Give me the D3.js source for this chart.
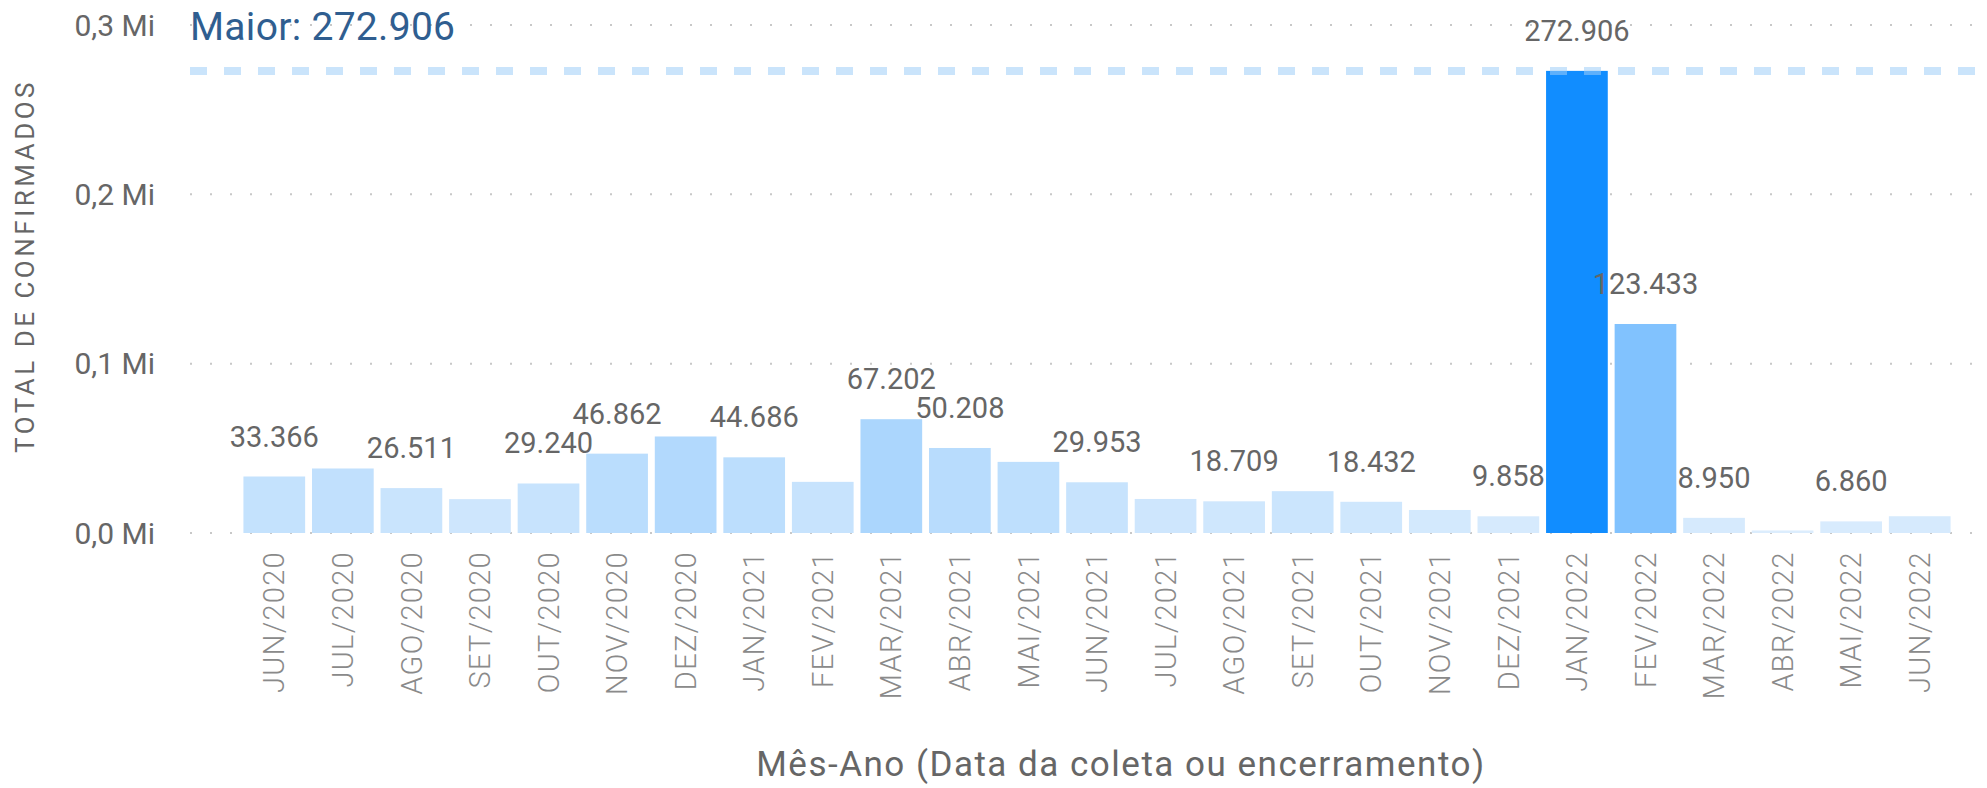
<!DOCTYPE html>
<html>
<head>
<meta charset="utf-8">
<script src="https://cdn.jsdelivr.net/npm/d3@7"></script>
<style>
  html, body { margin: 0; padding: 0; background: #fff; }
  svg { display: block; font-family: Roboto, "DejaVu Sans", sans-serif; }
</style>
</head>
<body>
<svg id="chart" width="1987" height="788"></svg>
<script>
const months = ["JUN/2020", "JUL/2020", "AGO/2020", "SET/2020", "OUT/2020", "NOV/2020", "DEZ/2020",
  "JAN/2021", "FEV/2021", "MAR/2021", "ABR/2021", "MAI/2021", "JUN/2021", "JUL/2021", "AGO/2021",
  "SET/2021", "OUT/2021", "NOV/2021", "DEZ/2021", "JAN/2022", "FEV/2022", "MAR/2022", "ABR/2022",
  "MAI/2022", "JUN/2022"];
const confirmed = [33366, 38100, 26511, 20000, 29240, 46862, 57000, 44686, 30200, 67202, 50208, 42000,
  29953, 20100, 18709, 24700, 18432, 13600, 9858, 272906, 123433, 8950, 1500, 6860, 9900];
const yTicks = [0, 100000, 200000, 300000];

const yTitle = "TOTAL DE CONFIRMADOS";
const xTitle = "Mês-Ano (Data da coleta ou encerramento)";

const ptBR = d3.formatLocale({ decimal: ",", thousands: ".", grouping: [3], currency: ["R$", ""] });
const fmtInt = ptBR.format(",d");
const fmtMi = (v) => ptBR.format(".1f")(v / 1e6) + " Mi";

const svg = d3.select("#chart");

const x = d3.scaleBand().domain(months).range([240, 1954]).paddingInner(0.1).paddingOuter(0.05);
const y = d3.scaleLinear().domain([0, 300000]).range([533, 25]);

const maxVal = d3.max(confirmed);
const color = d3.scaleLinear()
  .domain([d3.min(confirmed), maxVal])
  .range(["#dcedfd", "#118dff"]);

// gridlines (dotted)
svg.append("g")
  .selectAll("line")
  .data(yTicks)
  .join("line")
  .attr("x1", 190)
  .attr("x2", 1975)
  .attr("y1", (d) => y(d))
  .attr("y2", (d) => y(d))
  .attr("stroke", "#c8c8c8")
  .attr("stroke-width", 2)
  .attr("stroke-dasharray", "2 18");

// y tick labels
svg.append("g")
  .selectAll("text")
  .data(yTicks)
  .join("text")
  .attr("x", 155)
  .attr("y", (d) => y(d))
  .attr("dy", "0.35em")
  .attr("text-anchor", "end")
  .attr("font-size", 30)
  .attr("fill", "#666")
  .text((d) => fmtMi(d));

// y title
svg.append("text")
  .attr("transform", "translate(34,266) rotate(-90)")
  .attr("text-anchor", "middle")
  .attr("font-size", 26)
  .attr("letter-spacing", 3.5)
  .attr("fill", "#666")
  .text(yTitle);

// bars
const data = months.map((m, i) => ({ month: m, value: confirmed[i] }));
svg.append("g")
  .selectAll("rect")
  .data(data)
  .join("rect")
  .attr("x", (d) => x(d.month))
  .attr("y", (d) => y(d.value))
  .attr("width", x.bandwidth())
  .attr("height", (d) => y(0) - y(d.value))
  .attr("fill", (d) => color(d.value));

// max line
svg.append("line")
  .attr("x1", 190)
  .attr("x2", 1987)
  .attr("y1", y(maxVal))
  .attr("y2", y(maxVal))
  .attr("stroke", "#9fcdf8")
  .attr("stroke-opacity", 0.55)
  .attr("stroke-width", 8)
  .attr("stroke-dasharray", "17 17");

svg.append("text")
  .attr("x", 190)
  .attr("y", 40)
  .attr("font-size", 39)
  .attr("letter-spacing", 0.3)
  .attr("fill", "#2f5e90")
  .text("Maior: " + fmtInt(maxVal));

// data labels, hidden when they collide with an earlier one
const labelG = svg.append("g");
const shown = [];
data.forEach((d) => {
  const cx = x(d.month) + x.bandwidth() / 2;
  const by = y(d.value) - 30;
  const t = labelG.append("text")
    .attr("x", cx)
    .attr("y", by)
    .attr("text-anchor", "middle")
    .attr("font-size", 29)
    .attr("fill", "#666")
    .text(fmtInt(d.value));
  const w = t.node().getComputedTextLength();
  const box = { x0: cx - w / 2, x1: cx + w / 2, y0: by - 27, y1: by };
  const hit = shown.some((b) => box.x0 < b.x1 && box.x1 > b.x0 && box.y0 < b.y1 && box.y1 > b.y0);
  if (hit) t.remove();
  else shown.push(box);
});

// x tick labels
svg.append("g")
  .selectAll("text")
  .data(months)
  .join("text")
  .attr("transform", (d) => `translate(${x(d) + x.bandwidth() / 2},551) rotate(-90)`)
  .attr("dy", "0.35em")
  .attr("text-anchor", "end")
  .attr("font-size", 29)
  .attr("letter-spacing", 1.3)
  .attr("font-weight", 300)
  .attr("fill", "#8a8a8a")
  .text((d) => d);

// x title
svg.append("text")
  .attr("x", 1121)
  .attr("y", 776)
  .attr("text-anchor", "middle")
  .attr("font-size", 35)
  .attr("letter-spacing", 1.5)
  .attr("fill", "#666")
  .text(xTitle);
</script>
</body>
</html>
